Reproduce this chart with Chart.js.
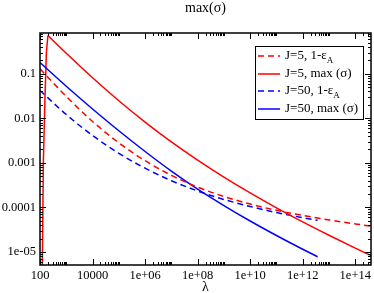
<!DOCTYPE html>
<html>
<head>
<meta charset="utf-8">
<script src="https://cdn.jsdelivr.net/npm/chart.js@4"></script>
<style>
  html, body { margin: 0; padding: 0; background: #fff; }
</style>
</head>
<body>
<canvas id="chart" width="374" height="293"></canvas>
<script>
// J=5, max(sigma): steep rise up to the peak, then the slow decline
const lamJ5Rise = [118, 124, 134, 155, 175, 200];
const valJ5Rise = [1e-7, 1e-5, 1e-3, 0.03, 0.3, 0.72];
const lamJ5Max = [200, 1e3, 1e4, 1e5, 1e6, 1e7, 1e8, 1e9, 1e10, 1e11, 1e12, 1e13, 1e14, 4e14];
const valJ5Max = [0.72, 0.288, 0.0813, 0.0248, 8.22e-3, 2.95e-3, 1.15e-3, 4.79e-4, 2.11e-4, 9.77e-5, 4.73e-5, 2.37e-5, 1.22e-5, 8.3e-6];
// J=5, 1-eps_A
const lamJ5Eps = [100, 1e3, 1e4, 1e5, 1e6, 1e7, 1e8, 1e9, 1e10, 1e11, 1e12, 1e13, 1e14, 4e14];
const valJ5Eps = [0.129, 0.0309, 8.51e-3, 2.82e-3, 1.12e-3, 5.25e-4, 2.85e-4, 1.76e-4, 1.19e-4, 8.61e-5, 6.61e-5, 5.25e-5, 4.27e-5, 3.8e-5];
// J=50, max(sigma)
const lamJ50Max = [100, 1e3, 1e4, 1e5, 1e6, 1e7, 1e8, 1e9, 1e10, 1e11, 1e12, 3.7e12];
const valJ50Max = [0.178, 0.0525, 0.0162, 5.25e-3, 1.80e-3, 6.53e-4, 2.57e-4, 1.10e-4, 4.95e-5, 2.34e-5, 1.15e-5, 7.8e-6];
// J=50, 1-eps_A
const lamJ50Eps = [100, 1e3, 1e4, 1e5, 1e6, 1e7, 1e8, 1e9, 1e10, 1e11, 1e12, 3.7e12];
const valJ50Eps = [0.0422, 0.01216, 4.12e-3, 1.64e-3, 7.59e-4, 3.98e-4, 2.34e-4, 1.51e-4, 1.05e-4, 7.67e-5, 5.89e-5, 5.13e-5];

const xTicks = [1e2, 1e4, 1e6, 1e8, 1e10, 1e12, 1e14];
const xTickLabels = ['100', '10000', '1e+06', '1e+08', '1e+10', '1e+12', '1e+14'];
const yTicks = [1e-5, 1e-4, 1e-3, 1e-2, 1e-1];
const yTickLabels = ['1e-05', '0.0001', '0.001', '0.01', '0.1'];

const RED = '#ff0000', BLUE = '#0000ff';
const SERIF = '"Liberation Serif", "DejaVu Serif", serif';

const pts = (xs, ys) => xs.map((x, i) => ({ x, y: ys[i] }));

const series = [
  { label: 'J=5, 1-ε', sub: 'A', data: pts(lamJ5Eps, valJ5Eps), color: RED, dash: [6, 4] },
  { label: 'J=5, max (σ)', sub: '', data: pts(lamJ5Max, valJ5Max), color: RED, dash: [] },
  { label: 'J=50, 1-ε', sub: 'A', data: pts(lamJ50Eps, valJ50Eps), color: BLUE, dash: [6, 4] },
  { label: 'J=50, max (σ)', sub: '', data: pts(lamJ50Max, valJ50Max), color: BLUE, dash: [] },
];

// frame, inward ticks on all sides, title and legend
const decor = {
  id: 'decor',
  afterDraw(chart) {
    const { ctx, chartArea: a, scales: { x, y } } = chart;
    ctx.save();
    ctx.strokeStyle = '#000';
    ctx.lineWidth = 1.5;
    ctx.strokeRect(a.left, a.top, a.right - a.left, a.bottom - a.top);

    ctx.lineWidth = 1;
    ctx.beginPath();
    const xMinor = [];
    xTicks.forEach(m => { for (let k = 2; k <= 10; k++) xMinor.push(m * k); });
    xTicks.forEach(v => {
      const p = Math.round(x.getPixelForValue(v)) + 0.5;
      ctx.moveTo(p, a.bottom); ctx.lineTo(p, a.bottom - 6);
      ctx.moveTo(p, a.top); ctx.lineTo(p, a.top + 6);
    });
    xMinor.filter(v => v < x.max).forEach(v => {
      const p = Math.round(x.getPixelForValue(v)) + 0.5;
      ctx.moveTo(p, a.bottom); ctx.lineTo(p, a.bottom - 3);
      ctx.moveTo(p, a.top); ctx.lineTo(p, a.top + 3);
    });
    const yMinor = [1e-6, ...yTicks].flatMap(m => [2, 3, 4, 5, 6, 7, 8, 9].map(k => m * k))
      .filter(v => v > y.min && v < y.max);
    yTicks.forEach(v => {
      const p = Math.round(y.getPixelForValue(v)) + 0.5;
      ctx.moveTo(a.left, p); ctx.lineTo(a.left + 6, p);
      ctx.moveTo(a.right, p); ctx.lineTo(a.right - 6, p);
    });
    yMinor.forEach(v => {
      const p = Math.round(y.getPixelForValue(v)) + 0.5;
      ctx.moveTo(a.left, p); ctx.lineTo(a.left + 3, p);
      ctx.moveTo(a.right, p); ctx.lineTo(a.right - 3, p);
    });
    ctx.stroke();

    // titles
    const cx = (a.left + a.right) / 2;
    ctx.fillStyle = '#000';
    ctx.textAlign = 'center';
    ctx.textBaseline = 'middle';
    ctx.font = '14px ' + SERIF;
    ctx.fillText('max(σ)', cx, 8);
    ctx.fillText('λ', cx, 287);

    // legend
    const bx = 255, by = 46, bw = 108, bh = 73;
    ctx.fillStyle = '#fff';
    ctx.fillRect(bx, by, bw, bh);
    ctx.strokeStyle = '#000';
    ctx.lineWidth = 1;
    ctx.strokeRect(bx + 0.5, by + 0.5, bw, bh);
    const rows = [56, 74, 91, 109];
    series.forEach((s, i) => {
      const ry = rows[i];
      ctx.strokeStyle = s.color;
      ctx.lineWidth = 1.5;
      ctx.setLineDash(s.dash);
      ctx.beginPath();
      ctx.moveTo(258, ry); ctx.lineTo(280, ry);
      ctx.stroke();
      ctx.setLineDash([]);
      ctx.fillStyle = '#000';
      ctx.textAlign = 'left';
      ctx.font = '13px ' + SERIF;
      ctx.fillText(s.label, 285, ry);
      if (s.sub) {
        const w = ctx.measureText(s.label).width;
        ctx.font = '9px ' + SERIF;
        ctx.fillText(s.sub, 285 + w, ry + 5);
      }
    });
    ctx.restore();
  }
};

const datasets = series.map(s => ({
  label: s.label,
  data: s.data,
  borderColor: s.color,
  borderDash: s.dash,
  borderWidth: 1.5,
  pointRadius: 0,
  cubicInterpolationMode: 'monotone',
  fill: false,
}));
// the sharp rise of J=5 max(σ) is drawn straight
datasets.push({
  label: 'J=5, max (σ) rise',
  data: pts(lamJ5Rise, valJ5Rise),
  borderColor: RED,
  borderWidth: 1.5,
  pointRadius: 0,
  tension: 0,
  fill: false,
});

new Chart(document.getElementById('chart'), {
  type: 'line',
  data: { datasets },
  options: {
    responsive: false,
    devicePixelRatio: 1,
    animation: false,
    layout: { padding: { top: 33, right: 1.5, left: 0, bottom: 0 } },
    plugins: { legend: { display: false }, title: { display: false }, tooltip: { enabled: false } },
    scales: {
      x: {
        type: 'logarithmic',
        min: 100,
        max: 3.98e14,
        grid: { display: false, drawTicks: false },
        border: { display: false },
        afterBuildTicks: s => { s.ticks = xTicks.map(v => ({ value: v })); },
        afterFit: s => { s.height = 28; },
        ticks: {
          autoSkip: false,
          maxRotation: 0,
          padding: 3,
          color: '#000',
          font: { family: SERIF, size: 12.5 },
          callback: v => xTickLabels[xTicks.indexOf(v)] ?? '',
        },
      },
      y: {
        type: 'logarithmic',
        min: 5.1e-6,
        max: 0.822,
        grid: { display: false, drawTicks: false },
        border: { display: false },
        afterBuildTicks: s => { s.ticks = yTicks.map(v => ({ value: v })); },
        afterFit: s => { s.width = 40; },
        ticks: {
          autoSkip: false,
          padding: 4,
          color: '#000',
          font: { family: SERIF, size: 12.5 },
          callback: v => yTickLabels[yTicks.findIndex(t => Math.abs(t - v) / t < 1e-6)] ?? '',
        },
      },
    },
  },
  plugins: [decor],
});
</script>
</body>
</html>
